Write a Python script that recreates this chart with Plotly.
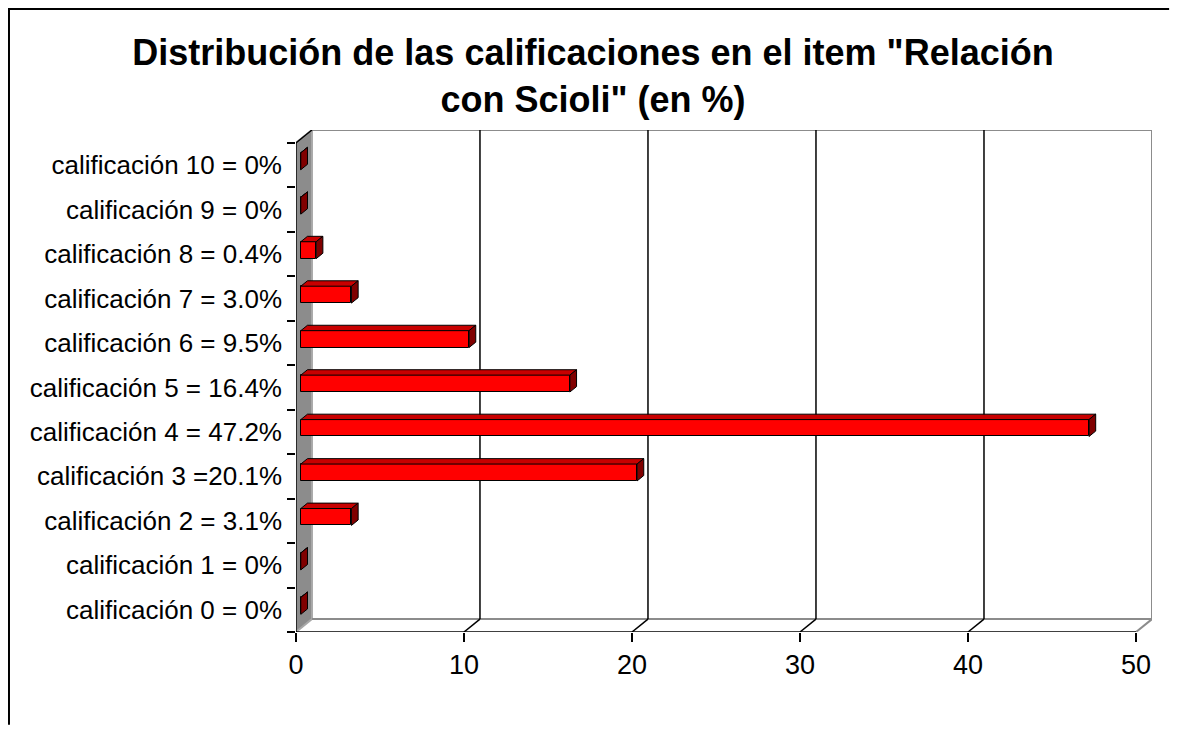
import plotly.graph_objects as go

# ---- data ----
categories = [
    "calificación 0 = 0%",
    "calificación 1 = 0%",
    "calificación 2 = 3.1%",
    "calificación 3 =20.1%",
    "calificación 4 = 47.2%",
    "calificación 5 = 16.4%",
    "calificación 6 = 9.5%",
    "calificación 7 = 3.0%",
    "calificación 8 = 0.4%",
    "calificación 9 = 0%",
    "calificación 10 = 0%",
]
values = [0, 0, 3.3, 20.3, 47.2, 16.3, 10.3, 3.3, 1.2, 0, 0]
x_ticks = [0, 10, 20, 30, 40, 50]
title_text = 'Distribución de las calificaciones en el item "Relación<br>con Scioli" (en %)'

# ---- 3D look parameters (oblique projection, in axis units) ----
XMAX = 50
DX = 0.95      # depth offset of back wall along x
DY = 0.29      # depth offset of back wall along y (category units)
F0 = 0.30      # depth fraction where bar front faces sit
FD = 0.42      # bar depth fraction
BH = 0.38      # bar thickness (category units)

n = len(categories)
idx = list(range(n))
ylo, yhi = -0.5, n - 0.5

fig = go.Figure()

bx0 = F0 * DX
by0 = F0 * DY
bdx = FD * DX
bdy = FD * DY

# bar ends (front face starts where the side wall hides it)
ends = [max(v, bx0) for v in values]

# front faces
fig.add_trace(go.Bar(
    orientation="h",
    y=[i + by0 for i in idx],
    x=[e - bx0 for e in ends],
    base=bx0,
    width=BH,
    marker=dict(color="#FF0000", line=dict(color="black", width=1)),
    hoverinfo="skip",
))

# top and side faces
for i, x1 in zip(idx, ends):
    yb = i + by0 - BH / 2
    yt = i + by0 + BH / 2
    fig.add_trace(go.Scatter(
        x=[bx0, x1, x1 + bdx, bx0 + bdx, bx0],
        y=[yt, yt, yt + bdy, yt + bdy, yt],
        fill="toself", fillcolor="#C80000", mode="lines",
        line=dict(color="black", width=1), hoverinfo="skip"))
    fig.add_trace(go.Scatter(
        x=[x1, x1, x1 + bdx, x1 + bdx, x1],
        y=[yb, yt, yt + bdy, yb + bdy, yb],
        fill="toself", fillcolor="#800000", mode="lines",
        line=dict(color="black", width=1), hoverinfo="skip"))

shapes = []
# left wall
shapes.append(dict(type="path", xref="x", yref="y", layer="below",
                   path=f"M 0,{ylo} L {DX},{ylo+DY} L {DX},{yhi+DY} L 0,{yhi} Z",
                   fillcolor="#8C8C8C", line=dict(color="#A8A8A8", width=2)))
# back wall border (top, right, bottom back edge)
shapes.append(dict(type="line", xref="x", yref="y", layer="below",
                   x0=DX, y0=yhi + DY, x1=XMAX + DX, y1=yhi + DY,
                   line=dict(color="#8C8C8C", width=2)))
shapes.append(dict(type="line", xref="x", yref="y", layer="below",
                   x0=XMAX + DX, y0=ylo + DY, x1=XMAX + DX, y1=yhi + DY,
                   line=dict(color="#8C8C8C", width=2)))
shapes.append(dict(type="line", xref="x", yref="y", layer="below",
                   x0=DX, y0=ylo + DY, x1=XMAX + DX, y1=ylo + DY,
                   line=dict(color="#8C8C8C", width=2)))
# back gridlines and floor slants
for t in x_ticks[1:-1]:
    shapes.append(dict(type="line", xref="x", yref="y", layer="below",
                       x0=t + DX, y0=ylo + DY, x1=t + DX, y1=yhi + DY,
                       line=dict(color="black", width=1.5)))
    shapes.append(dict(type="line", xref="x", yref="y", layer="below",
                       x0=t, y0=ylo, x1=t + DX, y1=ylo + DY,
                       line=dict(color="black", width=1.5)))
shapes.append(dict(type="line", xref="x", yref="y", layer="below",
                   x0=XMAX, y0=ylo, x1=XMAX + DX, y1=ylo + DY,
                   line=dict(color="#8C8C8C", width=2)))
# front axes
shapes.append(dict(type="line", xref="x", yref="y",
                   x0=0, y0=ylo, x1=XMAX, y1=ylo,
                   line=dict(color="black", width=1.5)))
shapes.append(dict(type="line", xref="x", yref="y",
                   x0=0, y0=ylo, x1=0, y1=yhi,
                   line=dict(color="black", width=1.5)))
shapes.append(dict(type="line", xref="x", yref="y",
                   x0=0, y0=yhi, x1=DX, y1=yhi + DY,
                   line=dict(color="black", width=1.5)))
# outer chart border: only its left and top edges fall inside the picture
shapes.append(dict(type="path", xref="paper", yref="paper",
                   path="M -0.3353,-0.185 L -0.3353,1.241 L 1.02,1.241",
                   line=dict(color="black", width=2)))

W, H = 1166, 717
fig.update_layout(
    width=W, height=H,
    margin=dict(l=288, r=22, t=122, b=93, autoexpand=False),
    paper_bgcolor="white", plot_bgcolor="white",
    showlegend=False, hovermode=False, dragmode=False,
    font=dict(family="Liberation Sans, Arial, sans-serif", color="black"),
    title=dict(text=f"<b>{title_text}</b>", x=(593 - 8) / W, xanchor="center",
               y=1 - 57 / H, yanchor="top",
               font=dict(size=36, family="Liberation Sans, Arial, sans-serif", color="black")),
    shapes=shapes,
    bargap=0,
)
fig.update_xaxes(range=[0, XMAX + DX], tickvals=x_ticks, ticks="outside", ticklen=9,
                 tickcolor="black", tickwidth=1.5, showgrid=False, zeroline=False,
                 showline=False, tickfont=dict(size=27), automargin=False, fixedrange=True)
fig.update_yaxes(range=[ylo, yhi + DY], tickvals=idx, ticktext=categories, ticks="",
                 showgrid=False, zeroline=False, showline=False,
                 minor=dict(tickmode="array", tickvals=[k - 0.5 for k in range(n + 1)],
                            ticks="outside", ticklen=8, tickcolor="black", tickwidth=1.5,
                            showgrid=False),
                 ticklabelstandoff=13, tickfont=dict(size=26), automargin=False, fixedrange=True)

fig.write_html("out.html", config={"displayModeBar": False})
